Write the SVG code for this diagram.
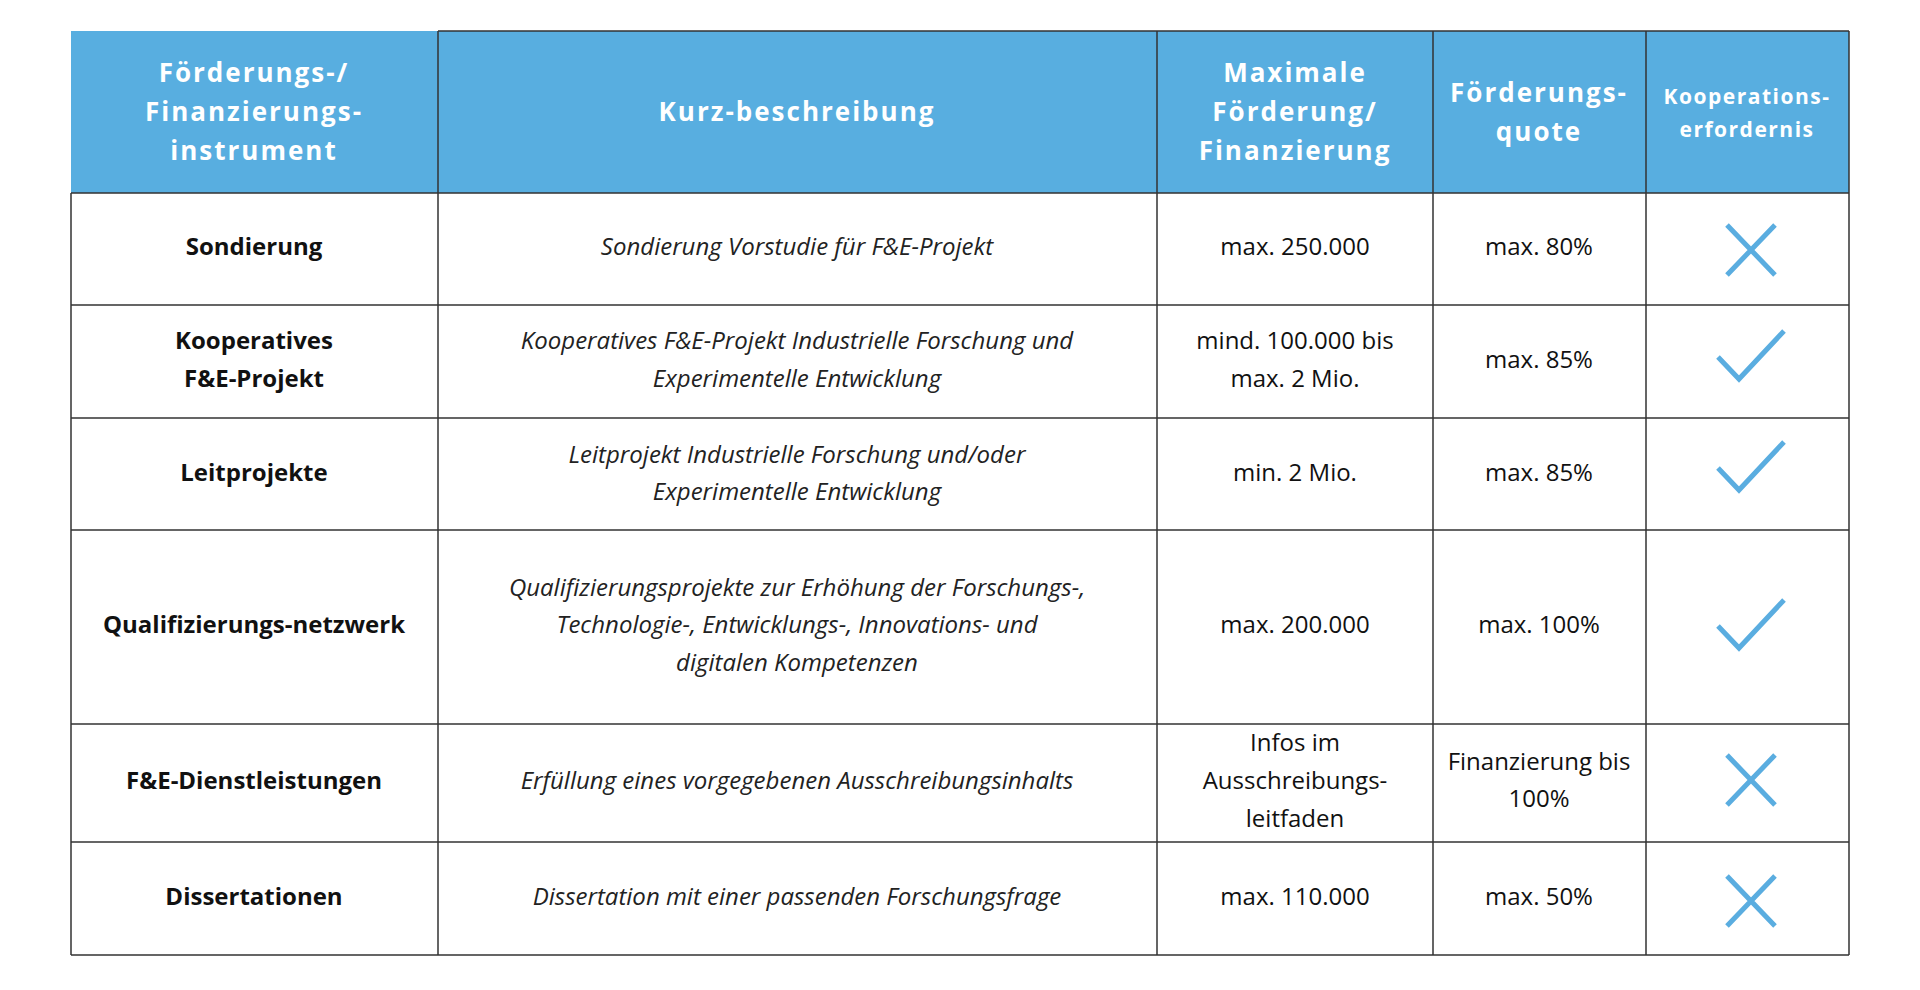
<svg xmlns="http://www.w3.org/2000/svg" width="1920" height="990" viewBox="0 0 1920 990">
<style>
.h{font-family:"Open Sans","Liberation Sans",sans-serif;font-weight:700;font-size:26px;fill:#fff;text-anchor:middle;letter-spacing:2px}
.b{font-family:"Open Sans","Liberation Sans",sans-serif;font-weight:700;font-size:24px;fill:#111;text-anchor:middle}
.i{font-family:"Open Sans","Liberation Sans",sans-serif;font-style:italic;font-size:24px;fill:#222;text-anchor:middle}
.n{font-family:"Open Sans","Liberation Sans",sans-serif;font-size:24px;fill:#111;text-anchor:middle}
.ic{stroke:#5aade0;stroke-width:5;fill:none}
.g{stroke:#333;stroke-width:1.5}
</style>
<defs>
<g id="x"><path class="ic" d="M-24,-25L24,25M24,-25L-24,25"/></g>
<g id="c"><path class="ic" d="M-33,2L-12,24L33,-24" stroke-width="7"/></g>
</defs>
<rect width="1920" height="990" fill="#fff"/>
<rect x="71" y="31" width="1778" height="162" fill="#58aee0"/>
<g id="grid">
<path class="g" d="M438,31V955M1157,31V955M1433,31V955M1646,31V955M1849,31V955M71,193V955M71,193H1849M71,305H1849M71,418H1849M71,530H1849M71,724H1849M71,842H1849M71,955H1849M438,31H1849"/>
</g>
<g id="header">
<text class="h" x="254" y="82">Förderungs-/</text>
<text class="h" x="254" y="121">Finanzierungs-</text>
<text class="h" x="254" y="160">instrument</text>
<text class="h" x="797" y="121">Kurz-beschreibung</text>
<text class="h" x="1295" y="82">Maximale</text>
<text class="h" x="1295" y="121">Förderung/</text>
<text class="h" x="1295" y="160">Finanzierung</text>
<text class="h" x="1539" y="102">Förderungs-</text>
<text class="h" x="1539" y="141">quote</text>
<text class="h" x="1747" y="104" style="font-size:21px;letter-spacing:1.5px">Kooperations-</text>
<text class="h" x="1747" y="137" style="font-size:21px;letter-spacing:1.5px">erfordernis</text>
</g>
<g id="r1">
<text class="b" x="254" y="255">Sondierung</text>
<text class="i" x="797" y="255">Sondierung Vorstudie für F&amp;E-Projekt</text>
<text class="n" x="1295" y="255">max. 250.000</text>
<text class="n" x="1539" y="255">max. 80%</text>
<use href="#x" x="1751" y="250"/>
</g>
<g id="r2">
<text class="b" x="254" y="349">Kooperatives</text>
<text class="b" x="254" y="387">F&amp;E-Projekt</text>
<text class="i" x="797" y="349">Kooperatives F&amp;E-Projekt Industrielle Forschung und</text>
<text class="i" x="797" y="387">Experimentelle Entwicklung</text>
<text class="n" x="1295" y="349">mind. 100.000 bis</text>
<text class="n" x="1295" y="387">max. 2 Mio.</text>
<text class="n" x="1539" y="368">max. 85%</text>
<use href="#c" x="1751" y="355"/>
</g>
<g id="r3">
<text class="b" x="254" y="481">Leitprojekte</text>
<text class="i" x="797" y="463">Leitprojekt Industrielle Forschung und/oder</text>
<text class="i" x="797" y="500">Experimentelle Entwicklung</text>
<text class="n" x="1295" y="481">min. 2 Mio.</text>
<text class="n" x="1539" y="481">max. 85%</text>
<use href="#c" x="1751" y="466"/>
</g>
<g id="r4">
<text class="b" x="254" y="633">Qualifizierungs-netzwerk</text>
<text class="i" x="797" y="596">Qualifizierungsprojekte zur Erhöhung der Forschungs-,</text>
<text class="i" x="797" y="633">Technologie-, Entwicklungs-, Innovations- und</text>
<text class="i" x="797" y="671">digitalen Kompetenzen</text>
<text class="n" x="1295" y="633">max. 200.000</text>
<text class="n" x="1539" y="633">max. 100%</text>
<use href="#c" x="1751" y="624"/>
</g>
<g id="r5">
<text class="b" x="254" y="789">F&amp;E-Dienstleistungen</text>
<text class="i" x="797" y="789">Erfüllung eines vorgegebenen Ausschreibungsinhalts</text>
<text class="n" x="1295" y="751">Infos im</text>
<text class="n" x="1295" y="789">Ausschreibungs-</text>
<text class="n" x="1295" y="827">leitfaden</text>
<text class="n" x="1539" y="770">Finanzierung bis</text>
<text class="n" x="1539" y="807">100%</text>
<use href="#x" x="1751" y="780"/>
</g>
<g id="r6">
<text class="b" x="254" y="905">Dissertationen</text>
<text class="i" x="797" y="905">Dissertation mit einer passenden Forschungsfrage</text>
<text class="n" x="1295" y="905">max. 110.000</text>
<text class="n" x="1539" y="905">max. 50%</text>
<use href="#x" x="1751" y="901"/>
</g>
</svg>
